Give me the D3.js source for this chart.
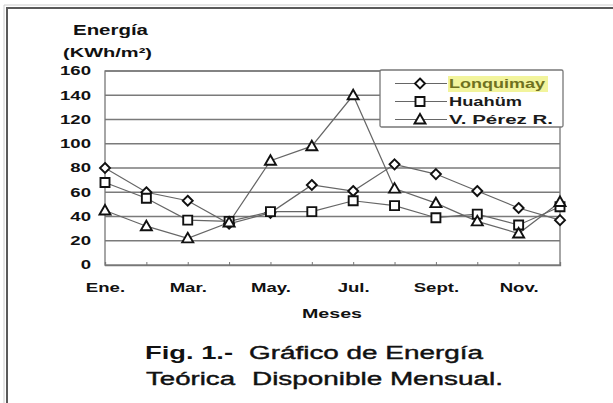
<!DOCTYPE html>
<html><head><meta charset="utf-8">
<script src="https://cdn.jsdelivr.net/npm/d3@7/dist/d3.min.js"></script>
<style>body{margin:0;background:#fff}svg{display:block}text{font-family:"Liberation Sans",Arial,sans-serif}</style>
</head><body><svg id="c" width="613" height="403"></svg>
<script>
const months = ["Ene.","Feb.","Mar.","Abr.","May.","Jun.","Jul.","Ago.","Sept.","Oct.","Nov.","Dic."];
const shownMonths = ["Ene.","Mar.","May.","Jul.","Sept.","Nov."];
const yTicks = [0,20,40,60,80,100,120,140,160];
const seriesNames = ["Lonquimay","Huahüm","V. Pérez R."];
const lonquimay = [80,60,53,34,43,66,61,83,75,61,47,37];
const huahum    = [68,55,37,36,44,44,53,49,39,42,33,48];
const perez     = [45,32,22,35,86,98,140,63,51,36,26,52];

const svg = d3.select("#c");
const SX = 1.55;
const x = d3.scalePoint().domain(months).range([105,560]);
const y = d3.scaleLinear().domain([0,160]).range([265,71]);

// outer frame
svg.append("path").attr("d","M7,403V8H613").attr("fill","none").attr("stroke","#5a5a5a").attr("stroke-width",2);
svg.append("path").attr("d","M4,403V5H613").attr("fill","none").attr("stroke","#ccc").attr("stroke-width",1);

// gridlines
svg.append("g").selectAll("line").data(yTicks.filter(d=>d>0)).join("line")
  .attr("x1",105).attr("x2",560).attr("y1",d=>y(d)).attr("y2",d=>y(d))
  .attr("stroke","#7a7a7a").attr("stroke-width",1.5);
svg.append("rect").attr("x",105).attr("y",y(160)).attr("width",455).attr("height",y(0)-y(160))
  .attr("fill","none").attr("stroke","#777").attr("stroke-width",1.3);

// y axis
const ya = svg.append("g").attr("transform","translate(105,0)")
  .call(d3.axisLeft(y).tickValues(yTicks).tickSize(0).tickPadding(14));
ya.select(".domain").remove();
ya.selectAll("text").attr("font-size",12).attr("font-weight","bold").attr("fill","#111")
  .attr("x",-14/SX).attr("transform",`scale(${SX},1)`);

// x axis
const xa = svg.append("g").attr("transform","translate(0,265)")
  .call(d3.axisBottom(x).tickSize(-3).tickPadding(18).tickFormat(d=>shownMonths.includes(d)?d:""));
xa.select(".domain").attr("stroke","#777").attr("stroke-width",1.3);
xa.selectAll(".tick line").attr("stroke","#777");
xa.selectAll("text").attr("font-size",12).attr("font-weight","bold").attr("fill","#111")
  .attr("transform",`scale(${SX},1)`);

// titles
function txt(s,x0,yb,w,size,weight,fill){
  return svg.append("text").attr("x",x0).attr("y",yb).attr("font-size",size)
    .attr("font-weight",weight||"normal").attr("fill",fill||"#111")
    .attr("textLength",w).attr("lengthAdjust","spacingAndGlyphs").text(s);
}
txt("Energía",73,35,75,14,"bold");
txt("(KWh/m²)",63,57,89,13,"bold");
txt("Meses",302,318,60,13,"bold");
txt("Fig. 1.-",145,359,88,18,"bold");
txt("Gráfico de Energía",249,359,234,18,"normal").attr("stroke","#111").attr("stroke-width",0.4);
txt("Teórica",146,385,89,18,"normal").attr("stroke","#111").attr("stroke-width",0.4);
txt("Disponible Mensual.",252,385,251,18,"normal").attr("stroke","#111").attr("stroke-width",0.4);

// markers
const mk = {
  diamond: "M0,-5L5,0L0,5L-5,0Z",
  square: "M-4.5,-4.5H4.5V4.5H-4.5Z",
  triangle: "M0,-5.5L5.5,4H-5.5Z"
};
const data = [lonquimay,huahum,perez];
const shapes = ["diamond","square","triangle"];
const line = d3.line().x((d,i)=>x(months[i])).y(d=>y(d));
data.forEach((vals,k)=>{
  svg.append("path").datum(vals).attr("d",line).attr("fill","none").attr("stroke","#666").attr("stroke-width",1.2);
});
data.forEach((vals,k)=>{
  svg.append("g").selectAll("path").data(vals).join("path")
    .attr("transform",(d,i)=>`translate(${x(months[i])},${y(d)})`)
    .attr("d",mk[shapes[k]]).attr("fill","#fff").attr("stroke","#111").attr("stroke-width",1.9);
});

// legend
const lg = svg.append("g");
lg.append("rect").attr("x",380).attr("y",70).attr("width",183).attr("height",57).attr("rx",1.5)
  .attr("fill","#fff").attr("stroke","#777").attr("stroke-width",1.3);
const ly = [83.5,101.5,119.5];
const lw = [96,73,104];
lg.append("rect").attr("x",448).attr("y",76).attr("width",100).attr("height",16).attr("fill","#f2f49c");
seriesNames.forEach((n,k)=>{
  lg.append("line").attr("x1",395).attr("x2",447).attr("y1",ly[k]).attr("y2",ly[k]).attr("stroke","#666").attr("stroke-width",1.2);
  lg.append("path").attr("transform",`translate(420,${ly[k]})`).attr("d",mk[shapes[k]])
    .attr("fill","#fff").attr("stroke","#111").attr("stroke-width",1.9);
  lg.append("text").attr("x",449).attr("y",ly[k]+4.5).attr("font-size",13).attr("font-weight","bold")
    .attr("fill",k===0?"#6f7120":"#1a1a1a").attr("textLength",lw[k]).attr("lengthAdjust","spacingAndGlyphs").text(n);
});
</script></body></html>
